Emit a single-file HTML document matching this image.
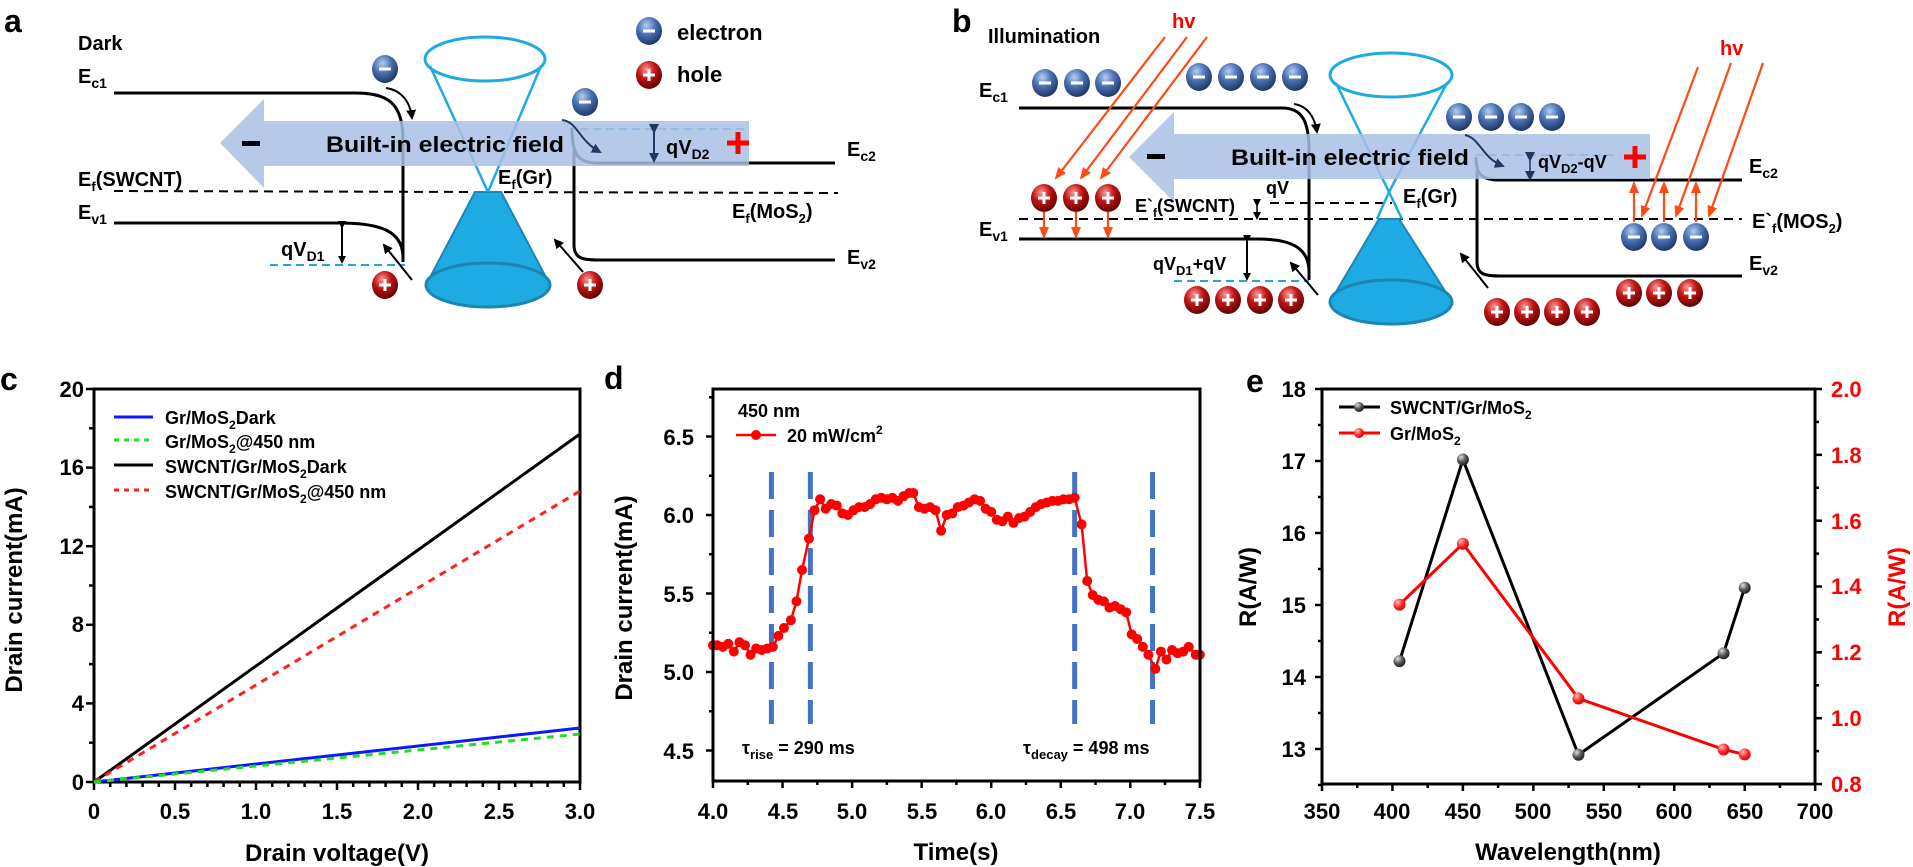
<!DOCTYPE html>
<html><head><meta charset="utf-8"><style>
html,body{margin:0;padding:0;background:#fff;}
svg{display:block;}
text{font-family:"Liberation Sans",Arial,sans-serif;font-weight:bold;}
</style></head><body>
<svg id="s" width="1913" height="867" viewBox="0 0 1913 867" xmlns="http://www.w3.org/2000/svg">
<defs>
<radialGradient id="ge" cx="0.4" cy="0.3" r="0.75"><stop offset="0" stop-color="#b5cdf0"/><stop offset="0.45" stop-color="#4a72b5"/><stop offset="1" stop-color="#1a2f5c"/></radialGradient>
<radialGradient id="gh" cx="0.4" cy="0.3" r="0.75"><stop offset="0" stop-color="#ff9a9a"/><stop offset="0.45" stop-color="#c01515"/><stop offset="1" stop-color="#550000"/></radialGradient>
<radialGradient id="gk" cx="0.35" cy="0.3" r="0.8"><stop offset="0" stop-color="#e0e0e0"/><stop offset="0.5" stop-color="#555"/><stop offset="1" stop-color="#111"/></radialGradient>
<radialGradient id="gr" cx="0.35" cy="0.3" r="0.8"><stop offset="0" stop-color="#ffc0c0"/><stop offset="0.5" stop-color="#ff2a2a"/><stop offset="1" stop-color="#c00000"/></radialGradient>
<marker id="ak" markerWidth="8" markerHeight="8" refX="6" refY="4" orient="auto" markerUnits="userSpaceOnUse"><path d="M0,0 L8,4 L0,8 z" fill="#000"/></marker>
<marker id="an" markerWidth="10" markerHeight="10" refX="8" refY="5" orient="auto" markerUnits="userSpaceOnUse"><path d="M0,0 L10,5 L0,10 z" fill="#1f3864"/></marker>
<marker id="ao" markerWidth="12" markerHeight="10" refX="10" refY="5" orient="auto" markerUnits="userSpaceOnUse"><path d="M0,0 L12,5 L0,10 z" fill="#ff4a14"/></marker>
<marker id="ab" markerWidth="10" markerHeight="10" refX="8" refY="5" orient="auto" markerUnits="userSpaceOnUse"><path d="M0,0 L10,5 L0,10 z" fill="#000"/></marker>
</defs>

<!-- ================= PANEL A ================= -->
<text x="4" y="32" font-size="32">a</text>
<text x="78" y="50" font-size="20">Dark</text>
<text x="78" y="83" font-size="20">E<tspan font-size="14" dy="5">c1</tspan></text>
<text x="78" y="186" font-size="20">E<tspan font-size="13" dy="5">f</tspan><tspan dy="-5">(SWCNT)</tspan></text>
<text x="78" y="219" font-size="20">E<tspan font-size="14" dy="5">v1</tspan></text>
<g fill="none" stroke="#000" stroke-width="3">
<path d="M114 93 H355 C388 93 403 103 403 140 V262"/>
<path d="M114 223 H340 C382 223 402 232 403 256"/>
<path d="M572 128 C572 155 578 163 598 163 H835"/>
<path d="M574 150 V245 C574 258 582 260 598 260 H835"/>
</g>
<path d="M114 191 L838 193" stroke="#000" stroke-width="2" stroke-dasharray="9 6"/>
<path d="M270 265 H405" stroke="#29a3e0" stroke-width="2" stroke-dasharray="8 5"/>
<path d="M580 129 H745" stroke="#29a3e0" stroke-width="2" stroke-dasharray="8 5"/>
<!-- cone -->
<polygon points="475,192 501,192 550,285 426,285" fill="#1eaae2" stroke="#1b86b3" stroke-width="2"/>
<ellipse cx="488" cy="285" rx="62" ry="22" fill="#1eaae2" stroke="#1b86b3" stroke-width="3"/>
<ellipse cx="485" cy="59" rx="60" ry="22" fill="none" stroke="#1eaae2" stroke-width="3"/>
<path d="M430 66 L488 192 M541 66 L488 192" stroke="#1eaae2" stroke-width="2.5" fill="none"/>
<!-- field arrow -->
<polygon points="220,143 264,99 264,121 749,121 749,166 264,166 264,188" fill="#a9c0e4" opacity="0.85"/>
<rect x="242" y="141" width="18" height="5" fill="#000"/>
<text x="326" y="152" font-size="22" textLength="238" lengthAdjust="spacingAndGlyphs">Built-in electric field</text>
<text x="498" y="184" font-size="20">E<tspan font-size="13" dy="5">f</tspan><tspan dy="-5">(Gr)</tspan></text>
<text x="666" y="154" font-size="20">qV<tspan font-size="14" dy="5">D2</tspan></text>
<path d="M727 143 h22 M738 132 v22" stroke="#ff0000" stroke-width="5"/>
<path d="M654 132 V161" stroke="#1f3864" stroke-width="2" marker-start="url(#an)" marker-end="url(#an)"/>
<text x="847" y="156" font-size="20">E<tspan font-size="14" dy="5">c2</tspan></text>
<text x="732" y="218" font-size="20">E<tspan font-size="13" dy="5">f</tspan><tspan dy="-5">(MoS</tspan><tspan font-size="13" dy="5">2</tspan><tspan dy="-5">)</tspan></text>
<text x="847" y="264" font-size="20">E<tspan font-size="14" dy="5">v2</tspan></text>
<text x="281" y="256" font-size="20">qV<tspan font-size="14" dy="5">D1</tspan></text>
<path d="M342 227 V262" stroke="#000" stroke-width="2" marker-start="url(#ak)" marker-end="url(#ak)"/>
<path d="M386 88 C400 90 410 100 412 118" fill="none" stroke="#000" stroke-width="2" marker-end="url(#ab)"/>
<path d="M562 120 C578 122 578 140 600 152" fill="none" stroke="#1f3864" stroke-width="2" marker-end="url(#an)"/>
<path d="M412 280 L384 245" stroke="#000" stroke-width="2" marker-end="url(#ab)"/>
<path d="M583 272 L555 240" stroke="#000" stroke-width="2" marker-end="url(#ab)"/>
<text x="677" y="40" font-size="22">electron</text>
<text x="677" y="82" font-size="22">hole</text>

<!-- ================= PANEL B ================= -->
<text x="952" y="32" font-size="32">b</text>
<text x="988" y="43" font-size="20">Illumination</text>
<text x="1172" y="28" font-size="20" fill="#ff0000">hv</text>
<text x="1720" y="55" font-size="20" fill="#ff0000">hv</text>
<text x="979" y="97" font-size="20">E<tspan font-size="14" dy="5">c1</tspan></text>
<text x="979" y="236" font-size="20">E<tspan font-size="14" dy="5">v1</tspan></text>
<g fill="none" stroke="#000" stroke-width="3">
<path d="M1019 108 H1282 C1300 108 1309 118 1309 150 V280"/>
<path d="M1019 239 H1257 C1295 239 1308 250 1309 270"/>
<path d="M1476 157 C1476 175 1482 180 1500 180 H1742"/>
<path d="M1477 170 V262 C1477 274 1484 276 1500 276 H1742"/>
</g>
<path d="M1019 219 H1742" stroke="#000" stroke-width="2" stroke-dasharray="9 6"/>
<path d="M1270 203 H1392" stroke="#000" stroke-width="2" stroke-dasharray="9 6"/>
<path d="M1174 281 H1309" stroke="#29a3e0" stroke-width="2" stroke-dasharray="8 5"/>
<path d="M1476 155 H1620" stroke="#29a3e0" stroke-width="2" stroke-dasharray="8 5"/>
<polygon points="1379,219 1399,219 1452,302 1330,302" fill="#1eaae2" stroke="#1b86b3" stroke-width="2"/>
<ellipse cx="1391" cy="302" rx="61" ry="22" fill="#1eaae2" stroke="#1b86b3" stroke-width="3"/>
<ellipse cx="1391" cy="75" rx="61" ry="22" fill="none" stroke="#1eaae2" stroke-width="3"/>
<path d="M1336 83 L1389 192 L1402 219 M1447 83 L1389 192 L1377 219" stroke="#1eaae2" stroke-width="2.5" fill="none"/>
<polygon points="1129,157 1174,112 1174,134 1650,134 1650,179 1174,179 1174,202" fill="#a9c0e4" opacity="0.85"/>
<rect x="1147" y="154" width="18" height="5" fill="#000"/>
<text x="1231" y="165" font-size="22" textLength="238" lengthAdjust="spacingAndGlyphs">Built-in electric field</text>
<text x="1403" y="203" font-size="20">E<tspan font-size="13" dy="5">f</tspan><tspan dy="-5">(Gr)</tspan></text>
<text x="1135" y="212" font-size="18">E`<tspan font-size="12" dy="5">f</tspan><tspan dy="-5">(SWCNT)</tspan></text>
<text x="1266" y="194" font-size="18">qV</text>
<path d="M1257 205 V218" stroke="#000" stroke-width="1.5" marker-start="url(#ak)" marker-end="url(#ak)"/>
<text x="1153" y="270" font-size="18">qV<tspan font-size="13" dy="5">D1</tspan><tspan dy="-5">+qV</tspan></text>
<path d="M1247 241 V279" stroke="#000" stroke-width="2" marker-start="url(#ak)" marker-end="url(#ak)"/>
<text x="1538" y="168" font-size="18">qV<tspan font-size="13" dy="5">D2</tspan><tspan dy="-5">-qV</tspan></text>
<path d="M1530 160 V179" stroke="#1f3864" stroke-width="1.5" marker-start="url(#an)" marker-end="url(#an)"/>
<path d="M1624 157 h22 M1635 146 v22" stroke="#ff0000" stroke-width="5"/>
<text x="1749" y="173" font-size="20">E<tspan font-size="14" dy="5">c2</tspan></text>
<text x="1752" y="228" font-size="20">E`<tspan font-size="13" dy="5">f</tspan><tspan dy="-5">(MOS</tspan><tspan font-size="13" dy="5">2</tspan><tspan dy="-5">)</tspan></text>
<text x="1749" y="270" font-size="20">E<tspan font-size="14" dy="5">v2</tspan></text>
<path d="M1294 104 C1308 106 1315 118 1317 132" fill="none" stroke="#000" stroke-width="2" marker-end="url(#ab)"/>
<path d="M1465 135 C1480 138 1482 158 1503 166" fill="none" stroke="#1f3864" stroke-width="2" marker-end="url(#an)"/>
<path d="M1318 295 L1291 263" stroke="#000" stroke-width="2" marker-end="url(#ab)"/>
<path d="M1488 288 L1461 254" stroke="#000" stroke-width="2" marker-end="url(#ab)"/>
<g stroke="#ff4a14" stroke-width="2.2" fill="none">
<path d="M1165 37 L1056 178" marker-end="url(#ao)"/>
<path d="M1187 37 L1081 178" marker-end="url(#ao)"/>
<path d="M1207 37 L1101 178" marker-end="url(#ao)"/>
<path d="M1698 67 L1642 216" marker-end="url(#ao)"/>
<path d="M1731 63 L1676 216" marker-end="url(#ao)"/>
<path d="M1763 63 L1709 216" marker-end="url(#ao)"/>
<path d="M1044 212 V237" marker-end="url(#ao)"/>
<path d="M1076 212 V237" marker-end="url(#ao)"/>
<path d="M1108 212 V237" marker-end="url(#ao)"/>
<path d="M1634 222 V183" marker-end="url(#ao)"/>
<path d="M1664 222 V183" marker-end="url(#ao)"/>
<path d="M1696 222 V183" marker-end="url(#ao)"/>
</g>

<!-- ================= PANEL C ================= -->
<text x="0" y="390" font-size="32">c</text>
<g id="cg"></g>
<rect x="94" y="389" width="486" height="393" fill="none" stroke="#000" stroke-width="3"/>
<g font-size="22" text-anchor="end">
<text x="84" y="790">0</text><text x="84" y="711">4</text><text x="84" y="632">8</text><text x="84" y="554">12</text><text x="84" y="475">16</text><text x="84" y="397">20</text>
</g>
<g font-size="22" text-anchor="middle">
<text x="94" y="819">0</text><text x="175" y="819">0.5</text><text x="256" y="819">1.0</text><text x="337" y="819">1.5</text><text x="418" y="819">2.0</text><text x="499" y="819">2.5</text><text x="580" y="819">3.0</text>
</g>
<text x="337" y="861" font-size="24" text-anchor="middle">Drain voltage(V)</text>
<text transform="translate(22,590) rotate(-90)" font-size="24" text-anchor="middle">Drain current(mA)</text>
<g stroke-width="3">
<line x1="94" y1="782" x2="580" y2="434" stroke="#000"/>
<line x1="94" y1="782" x2="580" y2="491" stroke="#ff2020" stroke-dasharray="7 6"/>
<line x1="94" y1="782" x2="580" y2="728" stroke="#0a18ff"/>
<line x1="94" y1="782" x2="580" y2="734" stroke="#22dd22" stroke-dasharray="7 6"/>
<line x1="114" y1="417" x2="153" y2="417" stroke="#0a18ff"/>
<line x1="114" y1="440" x2="153" y2="440" stroke="#22dd22" stroke-dasharray="5 5"/>
<line x1="114" y1="465" x2="153" y2="465" stroke="#000"/>
<line x1="114" y1="490" x2="153" y2="490" stroke="#ff2020" stroke-dasharray="5 5"/>
</g>
<g font-size="18">
<text x="165" y="424">Gr/MoS<tspan font-size="12" dy="5">2</tspan><tspan dy="-5">Dark</tspan></text>
<text x="165" y="448">Gr/MoS<tspan font-size="12" dy="5">2</tspan><tspan dy="-5">@450 nm</tspan></text>
<text x="165" y="473">SWCNT/Gr/MoS<tspan font-size="12" dy="5">2</tspan><tspan dy="-5">Dark</tspan></text>
<text x="165" y="498">SWCNT/Gr/MoS<tspan font-size="12" dy="5">2</tspan><tspan dy="-5">@450 nm</tspan></text>
</g>

<!-- ================= PANEL D ================= -->
<text x="604" y="389" font-size="32">d</text>
<g id="dg"></g>
<rect x="713" y="389" width="487" height="392" fill="none" stroke="#000" stroke-width="3"/>
<g font-size="22" text-anchor="end">
<text x="694" y="445">6.5</text><text x="694" y="523">6.0</text><text x="694" y="602">5.5</text><text x="694" y="680">5.0</text><text x="694" y="759">4.5</text>
</g>
<g font-size="22" text-anchor="middle">
<text x="713" y="819">4.0</text><text x="783" y="819">4.5</text><text x="852" y="819">5.0</text><text x="922" y="819">5.5</text><text x="991" y="819">6.0</text><text x="1061" y="819">6.5</text><text x="1130" y="819">7.0</text><text x="1200" y="819">7.5</text>
</g>
<text x="956" y="860" font-size="24" text-anchor="middle">Time(s)</text>
<text transform="translate(632,598) rotate(-90)" font-size="24" text-anchor="middle">Drain current(mA)</text>
<text x="738" y="417" font-size="18">450 nm</text>
<line x1="736" y1="435" x2="776" y2="435" stroke="#ff0000" stroke-width="2.5"/>
<circle cx="756" cy="435" r="5" fill="#ff0000"/>
<text x="787" y="442" font-size="18">20 mW/cm<tspan font-size="12" dy="-8">2</tspan></text>
<text x="742" y="754" font-size="18">τ<tspan font-size="13" dy="5">rise</tspan><tspan dy="-5"> = 290 ms</tspan></text>
<text x="1023" y="754" font-size="18">τ<tspan font-size="13" dy="5">decay</tspan><tspan dy="-5"> = 498 ms</tspan></text>

<!-- ================= PANEL E ================= -->
<text x="1246" y="392" font-size="32">e</text>
<g id="eg"></g>
<rect x="1322" y="389" width="493" height="395" fill="none" stroke="#000" stroke-width="3"/>
<g font-size="22" text-anchor="end">
<text x="1306" y="757">13</text><text x="1306" y="685">14</text><text x="1306" y="613">15</text><text x="1306" y="541">16</text><text x="1306" y="469">17</text><text x="1306" y="397">18</text>
</g>
<g font-size="22" fill="#ff0000">
<text x="1831" y="792">0.8</text><text x="1831" y="726">1.0</text><text x="1831" y="660">1.2</text><text x="1831" y="594">1.4</text><text x="1831" y="529">1.6</text><text x="1831" y="463">1.8</text><text x="1831" y="397">2.0</text>
</g>
<g font-size="22" text-anchor="middle">
<text x="1322" y="819">350</text><text x="1392" y="819">400</text><text x="1463" y="819">450</text><text x="1533" y="819">500</text><text x="1604" y="819">550</text><text x="1674" y="819">600</text><text x="1745" y="819">650</text><text x="1815" y="819">700</text>
</g>
<text x="1568" y="860" font-size="24" text-anchor="middle">Wavelength(nm)</text>
<text transform="translate(1256,587) rotate(-90)" font-size="24" text-anchor="middle">R(A/W)</text>
<text transform="translate(1905,587) rotate(-90)" font-size="24" text-anchor="middle" fill="#ff0000">R(A/W)</text>
<line x1="1339" y1="407" x2="1380" y2="407" stroke="#000" stroke-width="3"/>
<circle cx="1359" cy="407" r="5" fill="url(#gk)"/>
<line x1="1339" y1="433" x2="1380" y2="433" stroke="#ff0000" stroke-width="3"/>
<circle cx="1359" cy="433" r="5" fill="url(#gr)"/>
<g font-size="18">
<text x="1390" y="414">SWCNT/Gr/MoS<tspan font-size="12" dy="5">2</tspan></text>
<text x="1390" y="440">Gr/MoS<tspan font-size="12" dy="5">2</tspan></text>
</g>
</svg>
<script>
var NS="http://www.w3.org/2000/svg",S=document.getElementById('s');
function el(t,a,p){var e=document.createElementNS(NS,t);for(var k in a)e.setAttribute(k,a[k]);(p||S).appendChild(e);return e;}
function ball(x,y,neg){var g=el('g',{});el('ellipse',{cx:x,cy:y,rx:13,ry:14,fill:neg?'url(#ge)':'url(#gh)'},g);
 el('rect',{x:x-6,y:y-1.5,width:12,height:3,fill:'#fff'},g);if(!neg)el('rect',{x:x-1.5,y:y-6,width:3,height:12,fill:'#fff'},g);}
// panel a
ball(649,31,1);ball(649,75,0);ball(385,69,1);ball(585,102,1);ball(385,285,0);ball(590,285,0);
// panel b
[1045,1077,1108].forEach(function(x){ball(x,83,1);});
[1199,1231,1263,1295].forEach(function(x){ball(x,77,1);});
[1459,1491,1521,1552].forEach(function(x){ball(x,117,1);});
[1044,1076,1108].forEach(function(x){ball(x,198,0);});
[1197,1228,1260,1291].forEach(function(x){ball(x,300,0);});
[1497,1527,1557,1587].forEach(function(x){ball(x,312,0);});
[1634,1664,1696].forEach(function(x){ball(x,237,1);});
[1629,1659,1690].forEach(function(x){ball(x,293,0);});
// ticks helper
function tk(x1,y1,x2,y2,g){el('line',{x1:x1,y1:y1,x2:x2,y2:y2,stroke:'#000','stroke-width':2.5},g);}
// panel c ticks
var cg=document.getElementById('cg');
for(var v=0;v<=20;v+=2){var y=782-v*19.65;tk(94,y,v%4?89:86,y,cg);}
for(var i=0;i<=30;i++){var x=94+i*16.2;tk(x,782,x,i%5?787:790,cg);}
// panel d
var dg=document.getElementById('dg');
for(var v=4.5;v<=6.76;v+=0.25){var y=672-(v-5)*157;tk(713,y,v*4%2?709:706,y,dg);}
for(var t=4;t<=7.501;t+=0.25){var x=713+(t-4)*139.1;tk(x,781,x,Math.round(t*4)%2?785:788,dg);}
[4.42,4.70,6.60,7.16].forEach(function(t){var x=713+(t-4)*139.1;el('line',{x1:x,y1:472,x2:x,y2:724,stroke:'#4472c4','stroke-width':5,'stroke-dasharray':'27 11'},dg);});
var D=[[4.0,5.17],[4.03,5.17],[4.07,5.16],[4.11,5.18],[4.15,5.13],[4.19,5.19],[4.23,5.17],[4.27,5.11],[4.31,5.15],[4.35,5.14],[4.39,5.15],[4.43,5.16],[4.47,5.23],[4.51,5.28],[4.56,5.33],[4.60,5.45],[4.64,5.65],[4.69,5.85],[4.73,6.03],[4.77,6.10],[4.81,6.04],[4.85,6.07],[4.89,6.06],[4.93,6.01],[4.97,6.00],[5.01,6.03],[5.05,6.05],[5.09,6.05],[5.13,6.07],[5.17,6.10],[5.21,6.11],[5.25,6.10],[5.29,6.11],[5.33,6.09],[5.37,6.12],[5.41,6.14],[5.44,6.14],[5.48,6.05],[5.52,6.04],[5.56,6.05],[5.60,6.03],[5.64,5.90],[5.68,6.00],[5.72,6.01],[5.76,6.05],[5.80,6.06],[5.84,6.08],[5.88,6.10],[5.92,6.09],[5.96,6.04],[6.00,6.02],[6.04,5.97],[6.08,5.96],[6.12,5.99],[6.16,5.95],[6.20,5.98],[6.24,5.99],[6.28,6.02],[6.32,6.05],[6.36,6.07],[6.40,6.08],[6.44,6.09],[6.48,6.09],[6.52,6.10],[6.56,6.10],[6.60,6.11],[6.65,5.94],[6.69,5.58],[6.73,5.49],[6.77,5.46],[6.81,5.45],[6.85,5.41],[6.89,5.42],[6.93,5.40],[6.97,5.38],[7.01,5.24],[7.05,5.21],[7.09,5.16],[7.13,5.11],[7.18,5.02],[7.22,5.13],[7.26,5.08],[7.30,5.14],[7.34,5.12],[7.38,5.13],[7.42,5.16],[7.47,5.11],[7.5,5.11]];
var pts=D.map(function(p){return [713+(p[0]-4)*139.1,672-(p[1]-5)*157];});
el('polyline',{points:pts.map(function(p){return p.join(',');}).join(' '),fill:'none',stroke:'#ff0000','stroke-width':2.5},dg);
pts.forEach(function(p){el('circle',{cx:p[0],cy:p[1],r:5,fill:'#ff0000'},dg);});
// panel e
var eg=document.getElementById('eg');
for(var v=12.5;v<=18.01;v+=0.5){var y=389+(18-v)*72;tk(1322,y,Math.round(v*2)%2?1318:1315,y,eg);}
for(var v=0.8;v<=2.001;v+=0.1){var y=389+(2.0-v)*329.2;tk(1815,y,Math.round(v*10)%2?1819:1822,y,eg);}
for(var w=350;w<=700;w+=25){var x=1322+(w-350)*1.409;tk(x,784,x,w%50?788:791,eg);}
var B=[[405,14.22],[450,17.02],[532,12.92],[635,14.33],[650,15.24]],R=[[405,1.345],[450,1.53],[532,1.06],[635,0.905],[650,0.89]];
var bp=B.map(function(p){return [1322+(p[0]-350)*1.409,389+(18-p[1])*72];});
var rp=R.map(function(p){return [1322+(p[0]-350)*1.409,389+(2-p[1])*329.2];});
el('polyline',{points:bp.join(' '),fill:'none',stroke:'#000','stroke-width':3},eg);
el('polyline',{points:rp.join(' '),fill:'none',stroke:'#ff0000','stroke-width':3},eg);
bp.forEach(function(p){el('circle',{cx:p[0],cy:p[1],r:6,fill:'url(#gk)'},eg);});
rp.forEach(function(p){el('circle',{cx:p[0],cy:p[1],r:6,fill:'url(#gr)'},eg);});
</script>
</body></html>
